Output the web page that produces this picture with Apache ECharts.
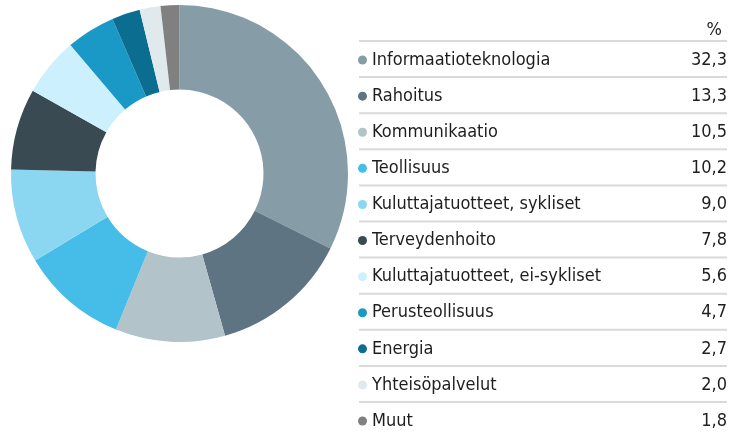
<!DOCTYPE html>
<html>
<head>
<meta charset="utf-8">
<script src="https://cdn.jsdelivr.net/npm/echarts@6/dist/echarts.min.js"></script>
<style>
html,body{margin:0;padding:0;background:#fff;}
#chart{width:746px;height:437px;}
</style>
</head>
<body>
<div id="chart"></div>
<script>
const categories = ["Informaatioteknologia","Rahoitus","Kommunikaatio","Teollisuus","Kuluttajatuotteet, sykliset","Terveydenhoito","Kuluttajatuotteet, ei-sykliset","Perusteollisuus","Energia","Yhteisöpalvelut","Muut"];
const values = [32.3,13.3,10.5,10.2,9.0,7.8,5.6,4.7,2.7,2.0,1.8];
const colors = ["#869DA8","#5E7482","#B3C3CA","#45BDE8","#8BD7F1","#3A4A53","#CCF0FD","#1A98C6","#0B6E90","#E0E9EC","#808080"];
const headerLabel = "%";

const FONT = "'Liberation Sans Narrow', 'DejaVu Sans Condensed', sans-serif";
const FS = 18;
const fmt = v => v.toFixed(1).replace('.', ',');
const rowTop = 41, rowH = 36.1, itemH = 20;

const chart = echarts.init(document.getElementById('chart'), null, {renderer:'canvas'});
const lines = [];
for (let i = 0; i < categories.length; i++) {
  lines.push({type:'line', shape:{x1:359, y1:rowTop + i*rowH, x2:727, y2:rowTop + i*rowH}, style:{stroke:'#DADADA', lineWidth:2}});
}
chart.setOption({
  animation:false,
  color: colors,
  title:{text:headerLabel, right:19, top:16, textStyle:{fontFamily:FONT, fontSize:FS, fontWeight:'normal', color:'#222'}},
  graphic: lines,
  legend:{
    orient:'vertical', left:358, top:rowTop + (rowH-itemH)/2 + 1, itemGap:rowH-itemH, selectedMode:false,
    icon:'circle', itemWidth:9, itemHeight:9, padding:0,
    data: categories,
    formatter: name => '{n|' + name + '}{v|' + fmt(values[categories.indexOf(name)]) + '}',
    textStyle:{
      fontFamily:FONT, fontSize:FS, color:'#1E1E1E',
      rich:{
        n:{width:305, fontFamily:FONT, fontSize:FS, color:'#1E1E1E', lineHeight:itemH, height:itemH},
        v:{width:50, align:'right', fontFamily:FONT, fontSize:FS, color:'#1E1E1E', lineHeight:itemH, height:itemH}
      }
    }
  },
  series:[{
    type:'pie', center:[179.5,173.5], radius:[84,168.5], startAngle:90, clockwise:true,
    label:{show:false}, labelLine:{show:false}, silent:true,
    itemStyle:{borderWidth:0},
    data: categories.map((c,i)=>({name:c, value:values[i]}))
  }]
});
</script>
</body>
</html>
